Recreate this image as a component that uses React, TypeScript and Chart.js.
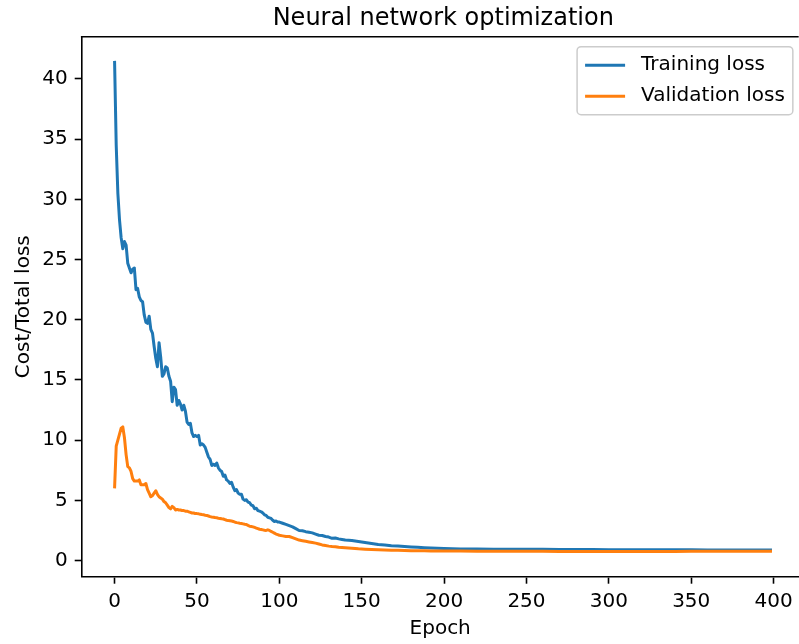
import React, { useEffect, useRef } from "react";
import { Chart, registerables } from "chart.js";

Chart.register(...registerables);

const TITLE = "Neural network optimization";
const X_LABEL = "Epoch";
const Y_LABEL = "Cost/Total loss";
const SERIES_LABELS = ["Training loss", "Validation loss"];
const SERIES_COLORS = ["#1f77b4", "#ff7f0e"];

const X_TICKS = [0, 50, 100, 150, 200, 250, 300, 350, 400];
const Y_TICKS = [0, 5, 10, 15, 20, 25, 30, 35, 40];

const EPOCHS = [
  0, 1, 2, 3, 4, 5, 6, 7, 8, 9, 10, 11, 12, 13, 14, 15, 16, 17, 18, 19, 20,
  21, 22, 23, 24, 25, 26, 27, 28, 29, 30, 31, 32, 33, 34, 35, 36, 37, 38, 39, 40,
  41, 42, 43, 44, 45, 46, 47, 48, 49, 50, 51, 52, 53, 54, 55, 56, 57, 58, 59, 60,
  61, 62, 63, 64, 65, 66, 67, 68, 69, 70,
  71, 72, 73, 74, 75, 76, 77, 78, 79, 80, 81, 82, 83, 84, 85, 86, 87, 88, 89, 90,
  91, 92, 93, 94, 95, 96, 97, 98, 99, 100,
  102, 104, 106, 108, 110, 112, 114, 116, 118, 120, 122, 124, 126, 128, 130,
  132, 134, 136, 138, 140,
  144, 148, 152, 156, 160, 164, 168, 172, 176, 180, 184, 188, 192, 196, 200,
  210, 220, 230, 240, 250, 260, 270, 280, 290, 300, 310, 320, 330, 340, 350,
  360, 370, 380, 390, 399,
];

const TRAINING_LOSS = [
  41.5, 34.5, 30.5, 28.3, 26.8, 25.9, 26.5, 26.2, 24.7, 24.3, 23.9,
  24.2, 24.3, 22.5, 22.6, 21.9, 21.6, 21.5, 20.4, 19.8, 19.7,
  20.3, 19.2, 18.9, 17.8, 16.8, 16.1, 18.1, 16.9, 15.3, 15.5,
  16.1, 16.0, 15.3, 14.9, 13.2, 14.4, 14.2, 12.9, 13.3, 13.0,
  12.5, 12.9, 12.4, 11.5, 11.3, 11.4, 10.6, 10.3, 10.4, 10.3,
  10.4, 9.6, 9.7, 9.6, 9.4, 9.0, 8.6, 8.4, 7.9, 8.0,
  7.9, 8.1, 7.7, 7.5, 7.4, 7.0, 7.1, 6.7, 6.6, 6.4,
  6.5, 6.1, 5.8, 5.9, 5.6, 5.5, 5.5, 5.1, 5.0, 5.05,
  4.85, 4.8, 4.6, 4.55, 4.3, 4.35, 4.15, 4.1, 4.05, 3.95,
  3.8, 3.75, 3.6, 3.55, 3.5, 3.35, 3.25, 3.28, 3.2, 3.2,
  3.1, 3.0, 2.9, 2.8, 2.65, 2.5, 2.48, 2.4, 2.35, 2.3, 2.2, 2.1, 2.08, 2.0, 1.95,
  1.85, 1.87, 1.8, 1.75, 1.7,
  1.66, 1.58, 1.5, 1.42, 1.33, 1.3, 1.24, 1.2, 1.17, 1.13, 1.1, 1.07, 1.04, 1.02, 1.0,
  0.97, 0.96, 0.95, 0.94, 0.93, 0.93, 0.92, 0.92, 0.91, 0.9, 0.9, 0.9, 0.89, 0.89, 0.89,
  0.88, 0.88, 0.88, 0.88, 0.87,
];

const VALIDATION_LOSS = [
  6.0, 9.5, 10.0, 10.5, 11.0, 11.1, 10.2, 8.8, 7.8, 7.7, 7.4,
  6.8, 6.6, 6.6, 6.6, 6.7, 6.3, 6.3, 6.3, 6.4, 5.9,
  5.6, 5.3, 5.4, 5.6, 5.8, 5.5, 5.3, 5.2, 5.1, 4.9,
  4.8, 4.6, 4.4, 4.3, 4.5, 4.4, 4.2, 4.25, 4.2, 4.2,
  4.15, 4.15, 4.1, 4.1, 4.05, 4.0, 3.95, 3.95, 3.9, 3.9,
  3.88, 3.85, 3.82, 3.8, 3.77, 3.75, 3.7, 3.65, 3.62, 3.6,
  3.57, 3.55, 3.52, 3.5, 3.47, 3.45, 3.4, 3.35, 3.32, 3.3,
  3.28, 3.25, 3.2, 3.15, 3.13, 3.1, 3.08, 3.05, 3.02, 3.0,
  2.92, 2.85, 2.83, 2.8, 2.75, 2.7, 2.65, 2.6, 2.58, 2.55,
  2.52, 2.5, 2.55, 2.5, 2.42, 2.35, 2.28, 2.2, 2.15, 2.1,
  2.05, 2.0, 2.0, 1.9, 1.8, 1.7, 1.65, 1.6, 1.55, 1.5, 1.45, 1.38, 1.3, 1.25, 1.2,
  1.17, 1.15, 1.1, 1.08, 1.06,
  1.03, 0.98, 0.95, 0.92, 0.9, 0.88, 0.86, 0.85, 0.84, 0.82, 0.82, 0.81, 0.8, 0.8, 0.79,
  0.79, 0.78, 0.78, 0.77, 0.77, 0.77, 0.76, 0.76, 0.76, 0.76, 0.76, 0.76, 0.76, 0.76, 0.77,
  0.77, 0.77, 0.77, 0.78, 0.78,
];

const FONT = "'DejaVu Sans', sans-serif";
const X_MIN = -19.95;
const X_MAX = 415.2;
const X_FULL_MAX = 418.95;
const Y_MIN = -1.34;
const Y_MAX = 43.51;

const overlayPlugin = {
  id: "overlay",
  afterDraw(chart: any) {
    const { ctx, chartArea, scales } = chart;
    ctx.save();
    // top spine
    ctx.strokeStyle = "#000";
    ctx.lineWidth = 1.6;
    ctx.beginPath();
    ctx.moveTo(chartArea.left - 0.8, chartArea.top);
    ctx.lineTo(chartArea.right, chartArea.top);
    ctx.stroke();

    // title
    const cx = scales.x.getPixelForValue((X_MIN + X_FULL_MAX) / 2);
    ctx.fillStyle = "#000";
    ctx.font = `24px ${FONT}`;
    ctx.textAlign = "center";
    ctx.textBaseline = "alphabetic";
    ctx.fillText(TITLE, cx, chartArea.top - 12);

    // legend
    const fullRight = scales.x.getPixelForValue(X_FULL_MAX);
    ctx.font = `20px ${FONT}`;
    const labels = chart.data.datasets.map((d: any) => d.label);
    const textW = Math.max(...labels.map((l: string) => ctx.measureText(l).width));
    const pad = 8, handle = 40, gap = 16, rowH = 21, spacing = 10;
    const boxW = pad * 2 + handle + gap + textW;
    const boxH = pad * 2 + rowH * labels.length + spacing * (labels.length - 1);
    const bx = fullRight - 10 - boxW - 2;
    const by = chartArea.top + 10;
    ctx.beginPath();
    ctx.roundRect(bx, by, boxW, boxH, 4);
    ctx.fillStyle = "rgba(255,255,255,0.8)";
    ctx.fill();
    ctx.strokeStyle = "#cccccc";
    ctx.lineWidth = 1.5;
    ctx.stroke();
    labels.forEach((l: string, i: number) => {
      const cy = by + pad + rowH / 2 + i * (rowH + spacing);
      ctx.strokeStyle = chart.data.datasets[i].borderColor;
      ctx.lineWidth = 3;
      ctx.lineCap = "butt";
      ctx.beginPath();
      ctx.moveTo(bx + pad, cy);
      ctx.lineTo(bx + pad + handle, cy);
      ctx.stroke();
      ctx.fillStyle = "#000";
      ctx.textAlign = "left";
      ctx.textBaseline = "middle";
      ctx.fillText(l, bx + pad + handle + gap, cy);
    });
    ctx.restore();
  },
};

export default function App() {
  const canvasRef = useRef<HTMLCanvasElement | null>(null);

  useEffect(() => {
    if (!canvasRef.current) return;
    const series = [TRAINING_LOSS, VALIDATION_LOSS];
    const chart = new Chart(canvasRef.current, {
      type: "line",
      data: {
        datasets: series.map((vals, i) => ({
          label: SERIES_LABELS[i],
          data: EPOCHS.map((e, j) => ({ x: e, y: vals[j] })),
          borderColor: SERIES_COLORS[i],
          backgroundColor: SERIES_COLORS[i],
          borderWidth: 3,
          pointRadius: 0,
          tension: 0,
          fill: false,
          borderJoinStyle: "round",
          order: i === 0 ? 1 : 0,
        })),
      },
      options: {
        animation: false,
        responsive: false,
        devicePixelRatio: 1,
        layout: { padding: { top: 36.7, left: 0, right: 0, bottom: 0 }, autoPadding: false },
        plugins: {
          legend: { display: false },
          title: { display: false },
          tooltip: { enabled: false },
        },
        scales: {
          x: {
            type: "linear",
            min: X_MIN,
            max: X_MAX,
            afterBuildTicks: (scale: any) => {
              scale.ticks = X_TICKS.map((v) => ({ value: v }));
            },
            afterFit: (scale: any) => {
              scale.height = 67.3;
            },
            ticks: {
              autoSkip: false,
              maxRotation: 0,
              minRotation: 0,
              padding: 6.3,
              color: "#000",
              font: { family: FONT, size: 20 },
              callback: (v: any) => String(v),
            },
            grid: {
              drawOnChartArea: false,
              drawTicks: true,
              tickLength: 7,
              tickColor: "#000",
              tickWidth: 1.6,
            },
            border: { display: true, color: "#000", width: 1.6 },
            title: {
              display: true,
              text: X_LABEL,
              color: "#000",
              font: { family: FONT, size: 20 },
              padding: { top: 0, bottom: 3.4 },
            },
          },
          y: {
            type: "linear",
            min: Y_MIN,
            max: Y_MAX,
            afterBuildTicks: (scale: any) => {
              scale.ticks = Y_TICKS.map((v) => ({ value: v }));
            },
            afterFit: (scale: any) => {
              scale.width = 81.7;
            },
            ticks: {
              autoSkip: false,
              padding: 7,
              color: "#000",
              font: { family: FONT, size: 20 },
              callback: (v: any) => String(v),
            },
            grid: {
              drawOnChartArea: false,
              drawTicks: true,
              tickLength: 7,
              tickColor: "#000",
              tickWidth: 1.6,
            },
            border: { display: true, color: "#000", width: 1.6 },
            title: {
              display: true,
              text: Y_LABEL,
              color: "#000",
              font: { family: FONT, size: 20 },
              padding: { top: 11.8, bottom: 0 },
            },
          },
        },
      },
      plugins: [overlayPlugin],
    } as any);
    return () => chart.destroy();
  }, []);

  return (
    <div style={{ position: "absolute", left: 0, top: 0, width: 799, height: 644, background: "#fff" }}>
      <canvas ref={canvasRef} width={799} height={644} style={{ display: "block", width: 799, height: 644 }} />
    </div>
  );
}
